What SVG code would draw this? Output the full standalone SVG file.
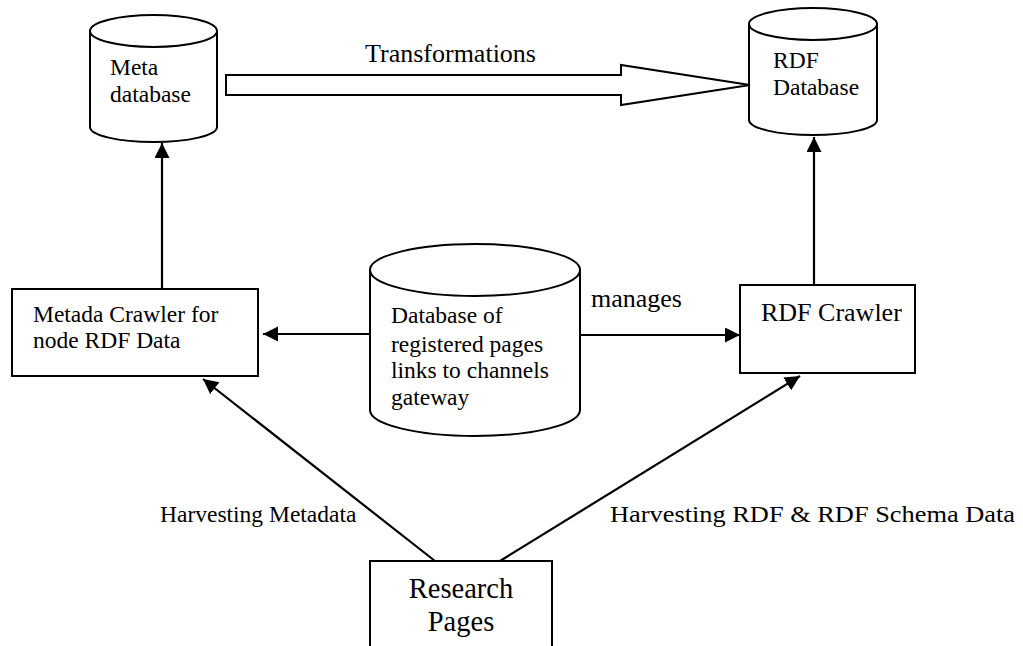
<svg xmlns="http://www.w3.org/2000/svg" width="1023" height="646" viewBox="0 0 1023 646">
  <style>
    .shape { fill: #ffffff; stroke: #000000; stroke-width: 2; }
    .box { fill: #ffffff; stroke: #000000; stroke-width: 2; }
    .edge { fill: none; stroke: #000000; stroke-width: 2.2; }
    .label { font-family: "Liberation Serif", "Times New Roman", serif; font-size: 23.5px; fill: #000000; }
    .mid { font-size: 26px; }
    .big { font-size: 28.5px; }
  </style>
  <defs>
    <marker id="head" markerUnits="userSpaceOnUse" markerWidth="16" markerHeight="16" refX="15" refY="7.5" orient="auto">
      <path d="M0,0 L15,7.5 L0,15 z" fill="#000000"/>
    </marker>
  </defs>

  <rect width="1023" height="646" fill="#ffffff"/>

  <!-- Meta database -->
  <g id="meta-db">
    <path class="shape" d="M90,31 L90,127 A63.5,15 0 0 0 217,127 L217,31"/>
    <ellipse class="shape" cx="153.5" cy="31" rx="63.5" ry="16"/>
    <text class="label" x="110" y="75">Meta</text>
    <text class="label" x="110" y="102">database</text>
  </g>

  <!-- RDF database -->
  <g id="rdf-db">
    <path class="shape" d="M749,24 L749,120 A64,15 0 0 0 877,120 L877,24"/>
    <ellipse class="shape" cx="813" cy="24" rx="64" ry="16"/>
    <text class="label" x="773" y="68">RDF</text>
    <text class="label" x="773" y="95">Database</text>
  </g>

  <!-- Registered pages database -->
  <g id="pages-db">
    <path class="shape" d="M370,270 L370,410 A105,26 0 0 0 580,410 L580,270"/>
    <ellipse class="shape" cx="475" cy="270" rx="105" ry="26"/>
    <text class="label" x="391" y="323">Database of</text>
    <text class="label" x="391" y="352">registered pages</text>
    <text class="label" x="391" y="378">links to channels</text>
    <text class="label" x="391" y="405">gateway</text>
  </g>

  <!-- Metadata crawler -->
  <g id="meta-crawler">
    <rect class="box" x="12" y="289" width="246" height="87"/>
    <text class="label" x="33" y="322">Metada Crawler for</text>
    <text class="label" x="33" y="348">node RDF Data</text>
  </g>

  <!-- RDF crawler -->
  <g id="rdf-crawler">
    <rect class="box" x="740" y="285" width="175" height="88"/>
    <text class="label mid" x="761" y="321">RDF Crawler</text>
  </g>

  <!-- Research pages -->
  <g id="research-pages">
    <rect class="box" x="370" y="561" width="182" height="100"/>
    <text class="label big" x="461" y="598" text-anchor="middle">Research</text>
    <text class="label big" x="461" y="631" text-anchor="middle">Pages</text>
  </g>

  <!-- Connectors -->
  <g id="connectors">
    <polygon class="shape" stroke-width="1.6" points="226,75 621,75 621,65 750,85 621,105 621,95 226,95"/>
    <line class="edge" x1="162" y1="289" x2="162" y2="143" marker-end="url(#head)"/>
    <line class="edge" x1="814" y1="285" x2="814" y2="137" marker-end="url(#head)"/>
    <line class="edge" x1="370" y1="334" x2="263" y2="334" marker-end="url(#head)"/>
    <line class="edge" x1="580" y1="335" x2="740" y2="335" marker-end="url(#head)"/>
    <line class="edge" x1="435" y1="561" x2="203" y2="379" marker-end="url(#head)"/>
    <line class="edge" x1="500" y1="561" x2="800" y2="376" marker-end="url(#head)"/>
    <text class="label mid" x="365" y="62" textLength="171" lengthAdjust="spacingAndGlyphs">Transformations</text>
    <text class="label mid" x="591" y="307">manages</text>
    <text class="label" x="160" y="522">Harvesting Metadata</text>
    <text class="label" x="610" y="522" font-size="25" textLength="405" lengthAdjust="spacingAndGlyphs">Harvesting RDF &amp; RDF Schema Data</text>
  </g>
</svg>
